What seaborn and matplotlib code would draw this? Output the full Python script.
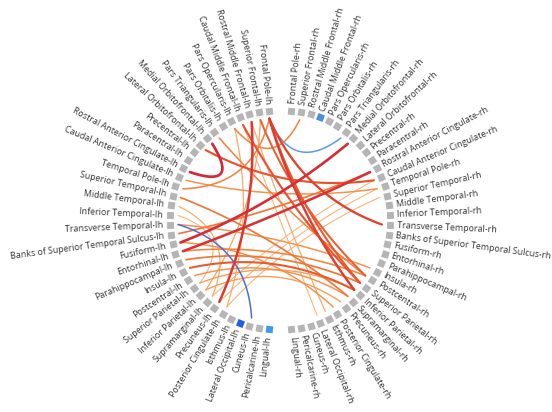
import numpy as np
import pandas as pd
import matplotlib
matplotlib.use("Agg")
import matplotlib.pyplot as plt
from matplotlib.colors import LinearSegmentedColormap
import seaborn as sns

# ---------------- data ----------------
regions = [
    "Frontal Pole", "Superior Frontal", "Rostral Middle Frontal", "Caudal Middle Frontal",
    "Pars Opercularis", "Pars Orbitalis", "Pars Triangularis", "Medial Orbitofrontal",
    "Lateral Orbitofrontal", "Precentral", "Paracentral", "Rostral Anterior Cingulate",
    "Caudal Anterior Cingulate", "Temporal Pole", "Superior Temporal", "Middle Temporal",
    "Inferior Temporal", "Transverse Temporal", "Banks of Superior Temporal Sulcus",
    "Fusiform", "Entorhinal", "Parahippocampal", "Insula", "Postcentral",
    "Superior Parietal", "Inferior Parietal", "Supramarginal", "Precuneus",
    "Posterior Cingulate", "Isthmus", "Lateral Occipital", "Cuneus", "Pericalcarine", "Lingual",
]
left_nodes = [r + "-lh" for r in regions]
right_nodes = [r + "-rh" for r in regions]

# highlighted (blue) nodes
blue_nodes = {"Caudal Middle Frontal-rh": "#4a90e2",
              "Lateral Occipital-lh": "#1f5ee8",
              "Lingual-lh": "#3a9bf0"}

# connections: source, target, weight (negative = blue)
edge_src = [
    "Medial Orbitofrontal-lh", "Medial Orbitofrontal-rh", "Rostral Anterior Cingulate-rh",
    "Rostral Middle Frontal-lh", "Frontal Pole-lh", "Frontal Pole-lh",
    "Caudal Middle Frontal-lh", "Lateral Orbitofrontal-lh", "Frontal Pole-lh",
    "Pars Triangularis-lh", "Insula-lh", "Parahippocampal-lh", "Postcentral-lh",
    "Superior Parietal-lh", "Entorhinal-lh", "Banks of Superior Temporal Sulcus-lh",
    "Caudal Anterior Cingulate-lh", "Precuneus-lh", "Posterior Cingulate-lh",
    "Supramarginal-lh", "Pars Opercularis-lh", "Superior Frontal-lh", "Pars Opercularis-lh",
    "Middle Temporal-lh", "Inferior Temporal-lh", "Temporal Pole-lh", "Superior Frontal-lh",
    "Superior Temporal-lh", "Transverse Temporal-lh", "Inferior Parietal-lh", "Fusiform-lh",
    "Rostral Middle Frontal-lh", "Caudal Middle Frontal-lh",
    "Frontal Pole-lh", "Transverse Temporal-lh",
]
edge_dst = [
    "Rostral Anterior Cingulate-lh", "Fusiform-lh", "Entorhinal-lh",
    "Precuneus-lh", "Inferior Parietal-rh", "Transverse Temporal-rh",
    "Superior Parietal-rh", "Caudal Anterior Cingulate-rh", "Superior Parietal-rh",
    "Postcentral-rh", "Inferior Parietal-rh", "Superior Parietal-rh", "Supramarginal-rh",
    "Inferior Parietal-rh", "Postcentral-rh", "Rostral Anterior Cingulate-rh",
    "Temporal Pole-rh", "Temporal Pole-rh", "Superior Temporal-rh",
    "Caudal Anterior Cingulate-rh", "Superior Frontal-rh", "Inferior Parietal-lh", "Posterior Cingulate-lh",
    "Supramarginal-lh", "Superior Parietal-lh", "Frontal Pole-lh", "Postcentral-rh",
    "Supramarginal-rh", "Insula-rh", "Precuneus-rh", "Posterior Cingulate-rh",
    "Isthmus-rh", "Lateral Occipital-rh",
    "Pars Triangularis-rh", "Cuneus-lh",
]
edge_w = [
    0.97, 0.95, 0.92,
    0.88, 0.85, 0.82,
    0.75, 0.75, 0.72,
    0.55, 0.72, 0.6, 0.5,
    0.45, 0.55, 0.6,
    0.5, 0.35, 0.35,
    0.35, 0.55, 0.42, 0.4,
    0.4, 0.35, 0.55, 0.7,
    0.6, 0.5, 0.45, 0.5,
    0.4, 0.35,
    -0.5, -0.75,
]

# ---------------- layout ----------------
sns.set_theme(style="white")
plt.rcParams["font.family"] = ["Open Sans", "DejaVu Sans"]

W, H = 552, 412
cx, cy = 280, 220
r_node, r_chord, r_text = 110, 102, 117
gap = 6.0
step = (180 - 2 * gap) / 33

angle = {}
for i, n in enumerate(left_nodes):
    angle[n] = 90 + gap + i * step
for i, n in enumerate(right_nodes):
    angle[n] = 90 - gap - i * step

def pos(name, r):
    t = np.deg2rad(angle[name])
    return cx + r * np.cos(t), cy - r * np.sin(t)

fig = plt.figure(figsize=(W / 100, H / 100), dpi=100)
ax = fig.add_axes([0, 0, 1, 1])
ax.set_xlim(0, W)
ax.set_ylim(H, 0)
ax.axis("off")

cmap = LinearSegmentedColormap.from_list(
    "conn", ["#fbc08e", "#f7974f", "#ef6a30", "#e2402b", "#d0243a"])

edges = pd.DataFrame({"src": edge_src, "dst": edge_dst, "w": edge_w})
edges["absw"] = edges["w"].abs()
edges = edges.sort_values("absw")

tt = np.linspace(0, 1, 80)
for _, e in edges.iterrows():
    x0, y0 = pos(e.src, r_chord)
    x2, y2 = pos(e.dst, r_chord)
    mx, my = (x0 + x2) / 2, (y0 + y2) / 2
    k = 0.5
    c1x, c1y = cx + k * (mx - cx), cy + k * (my - cy)
    bx = (1 - tt) ** 2 * x0 + 2 * (1 - tt) * tt * c1x + tt ** 2 * x2
    by = (1 - tt) ** 2 * y0 + 2 * (1 - tt) * tt * c1y + tt ** 2 * y2
    if e.w < 0:
        col = "#4a6fd6" if e.w < -0.6 else "#5b9be6"
        lw = 1.1
    else:
        col = cmap((e.w - 0.3) / 0.7)
        lw = 0.7 + 1.3 * (e.w - 0.3) / 0.7
    ax.plot(bx, by, color=col, lw=lw, solid_capstyle="round", zorder=2)

# nodes and labels
for n in left_nodes + right_nodes:
    x, y = pos(n, r_node)
    th = angle[n]
    col = blue_nodes.get(n, "#b5b5b5")
    ax.scatter([x], [y], s=50, marker=(4, 0, 45 + th), color=col,
               linewidths=0, zorder=3)
    tx, ty = pos(n, r_text)
    if n.endswith("-lh"):
        ax.text(tx, ty, n, rotation=th - 180, rotation_mode="anchor",
                ha="right", va="center", fontsize=6.4, color="#333333")
    else:
        ax.text(tx, ty, n, rotation=th, rotation_mode="anchor",
                ha="left", va="center", fontsize=6.4, color="#333333")

fig.savefig("out.png", dpi=100, facecolor="white")
